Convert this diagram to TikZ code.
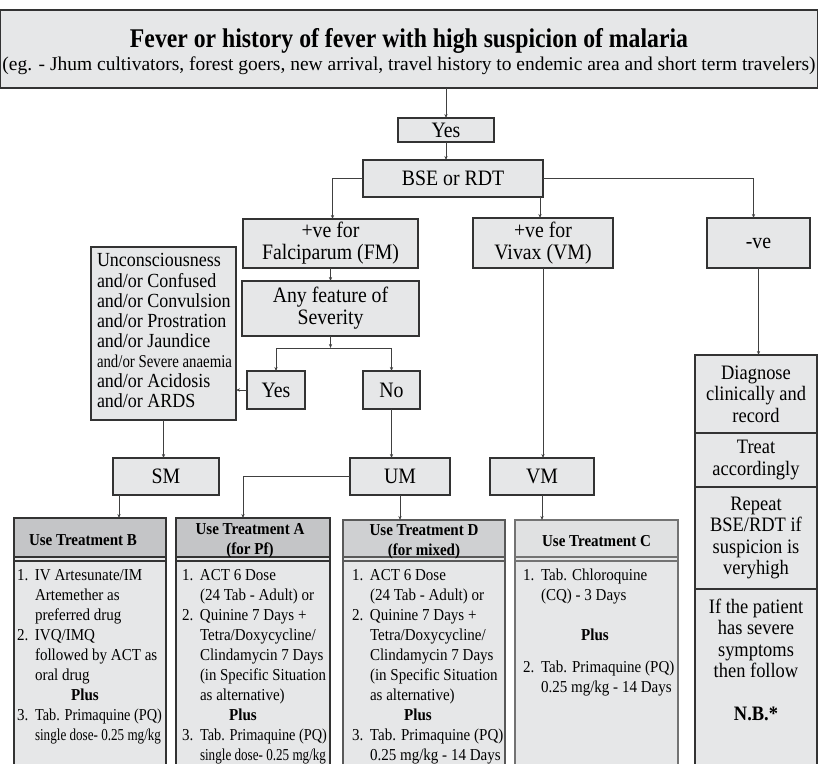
\documentclass[tikz,border=0pt]{standalone}
\usepackage{fontspec}
\setmainfont{Liberation Serif}[FakeStretch=0.9]
\usepackage{graphicx}
\usetikzlibrary{arrows.meta}
\definecolor{boxgray}{HTML}{E6E7E8}
\definecolor{hdrdark}{HTML}{C4C5C7}
\definecolor{hdrmid}{HTML}{CFD0D2}
\definecolor{hdrlight}{HTML}{E0E1E2}
\definecolor{edge}{HTML}{333333}
\newcommand\fsz[2]{\fontsize{#1}{#2}\selectfont}
\newcommand\num[1]{\makebox[18pt][l]{#1}}
\newcommand\hang{\hspace*{18pt}}
\newcommand\squeezeto[2]{\resizebox{#1}{\height}{#2}}
\begin{document}
\begin{tikzpicture}[x=1pt,y=-1pt,
  fcbox/.style={draw=edge, line width=1.2pt, fill=boxgray, inner sep=0pt, outer sep=0pt, align=center, anchor=north west},
  conn/.style={draw=black!75, line width=0.7pt, -{Stealth[length=4pt,width=3.2pt]}},
  plainline/.style={draw=black!75, line width=0.7pt},
  big/.style={font=\fsz{22}{22}},
  body/.style={inner sep=0pt, outer sep=0pt, align=left, anchor=north west, font=\fsz{16.7}{20}},
  hdr/.style={draw=edge, line width=1.2pt, inner sep=0pt, outer sep=0pt, anchor=north west},
  hdrtext/.style={inner sep=0pt, align=center, font=\fsz{16.7}{20}\bfseries},
  rtext/.style={font=\fsz{20.5}{21.5}},
]
\clip (0,0) rectangle (818,763);
\fill[white] (0,0) rectangle (818,763);

% top box
\node[fcbox, minimum width=817pt, minimum height=78pt] (top) at (0.6,10) {};
\node[anchor=base, inner sep=0pt] (title) at (409,47) {\squeezeto{558pt}{\fsz{27}{27}\bfseries Fever or history of fever with high suspicion of malaria}};
\node[anchor=base, inner sep=0pt] (subt) at (409,70.5) {\squeezeto{813pt}{\fsz{19.5}{19.5}(eg. - Jhum cultivators, forest goers, new arrival, travel history to endemic area and short term travelers)}};

\node[fcbox, big, minimum width=96pt, minimum height=24pt] (yes1) at (398,118) {Yes};
\node[fcbox, big, minimum width=180pt, minimum height=37pt] (bse) at (363,160) {BSE or RDT};
\node[fcbox, big, minimum width=175pt, minimum height=49pt] (fm) at (243,219) {+ve for\\Falciparum (FM)};
\node[fcbox, big, minimum width=140pt, minimum height=50pt] (vivax) at (473,218) {+ve for\\Vivax (VM)};
\node[fcbox, big, minimum width=103pt, minimum height=50pt] (neg) at (707,218) {-ve};
\node[fcbox, big, minimum width=177pt, minimum height=55pt] (sev) at (242,281) {Any feature of\\Severity};
\node[fcbox, big, minimum width=58pt, minimum height=38pt] (yes2) at (247,371) {Yes};
\node[fcbox, big, minimum width=57pt, minimum height=38pt] (no) at (363,371) {No};
\node[fcbox, minimum width=145pt, minimum height=173pt] (symp) at (91,247) {};
\node[body, font=\fsz{20}{20}] (symptext) at (97,252) {\strut Unconsciousness\\and/or Confused\\and/or Convulsion\\and/or Prostration\\and/or Jaundice\\\squeezeto{135pt}{\fsz{18}{20}and/or Severe anaemia}\\and/or Acidosis\\and/or ARDS};

\node[fcbox, big, minimum width=106pt, minimum height=37pt] (sm) at (113,458) {SM};
\node[fcbox, big, minimum width=100pt, minimum height=37pt] (um) at (350,458) {UM};
\node[fcbox, big, minimum width=104pt, minimum height=37pt] (vm) at (490,458) {VM};

% right column
\node[fcbox, rtext, minimum width=122pt, minimum height=78pt] (rc1) at (695,355) {Diagnose\\clinically and\\record};
\node[fcbox, rtext, minimum width=122pt, minimum height=54pt] (rc2) at (695,433) {Treat\\accordingly};
\node[fcbox, rtext, minimum width=122pt, minimum height=102pt] (rc3) at (695,487) {Repeat\\BSE/RDT if\\suspicion is\\veryhigh};
\node[fcbox, rtext, minimum width=122pt, minimum height=200pt] (rc4) at (695,589) {};
\node[rtext, anchor=north, inner sep=0pt, align=center] (rc4text) at (756,598) {\strut If the patient\\has severe\\symptoms\\then follow\\[21.5pt]\textbf{N.B.*}};

% treatment boxes
\node[fcbox, minimum width=152pt, minimum height=262pt] (trtB) at (14,518) {};
\node[hdr, fill=hdrdark, minimum width=152pt, minimum height=39pt] (hdrB) at (14,518) {};
\node[hdrtext] (hdrBt) at ([xshift=-7pt,yshift=-3pt]hdrB.center) {Use Treatment B};
\node[fcbox, minimum width=154pt, minimum height=262pt] (trtA) at (176,518) {};
\node[hdr, fill=hdrdark, minimum width=154pt, minimum height=39pt] (hdrA) at (176,518) {};
\node[hdrtext] (hdrAt) at ([xshift=-3pt,yshift=-3pt]hdrA.center) {Use Treatment A\\(for Pf)};
\node[fcbox, draw=black!65, minimum width=162pt, minimum height=262pt] (trtD) at (343,520) {};
\node[hdr, draw=black!65, fill=hdrmid, minimum width=162pt, minimum height=37pt] (hdrD) at (343,520) {};
\node[hdrtext] (hdrDt) at ([yshift=-3pt]hdrD.center) {Use Treatment D\\(for mixed)};
\node[fcbox, draw=black!55, minimum width=163pt, minimum height=262pt] (trtC) at (515,520) {};
\node[hdr, draw=black!55, fill=hdrlight, minimum width=163pt, minimum height=37pt] (hdrC) at (515,520) {};
\node[hdrtext] (hdrCt) at ([yshift=-3pt]hdrC.center) {Use Treatment C};

\foreach \h/\c in {hdrB/edge, hdrA/edge, hdrD/black!65, hdrC/black!55}{
  \draw[draw=\c, line width=1.2pt] ([yshift=-4pt]\h.south west) -- ([yshift=-4pt]\h.south east);
}

\node[body] (bodyB) at (17,566) {\strut\num{1.}IV Artesunate/IM\\\hang Artemether as\\\hang preferred drug\\\num{2.}IVQ/IMQ\\\hang followed by ACT as\\\hang oral drug\\\makebox[136pt][c]{\textbf{Plus}}\\\num{3.}\squeezeto{127pt}{Tab. Primaquine (PQ)}\\\hang\squeezeto{126pt}{single dose- 0.25 mg/kg}};
\node[body] (bodyA) at (182,566) {\strut\num{1.}ACT 6 Dose\\\hang(24 Tab - Adult) or\\\num{2.}Quinine 7 Days +\\\hang Tetra/Doxycycline/\\\hang Clindamycin 7 Days\\\hang\squeezeto{126pt}{(in Specific Situation}\\\hang as alternative)\\\makebox[122pt][c]{\textbf{Plus}}\\\num{3.}\squeezeto{127pt}{Tab. Primaquine (PQ)}\\\hang\squeezeto{126pt}{single dose- 0.25 mg/kg}};
\node[body] (bodyD) at (352,566) {\strut\num{1.}ACT 6 Dose\\\hang(24 Tab - Adult) or\\\num{2.}Quinine 7 Days +\\\hang Tetra/Doxycycline/\\\hang Clindamycin 7 Days\\\hang(in Specific Situation\\\hang as alternative)\\\makebox[132pt][c]{\textbf{Plus}}\\\num{3.}Tab. Primaquine (PQ)\\\hang 0.25 mg/kg - 14 Days};
\node[body] (bodyC) at (523,566) {\strut\num{1.}Tab. Chloroquine\\\hang(CQ) - 3 Days\\[20pt]\makebox[144pt][c]{\textbf{Plus}}\\[12pt]\num{2.}Tab. Primaquine (PQ)\\\hang 0.25 mg/kg - 14 Days};

% connectors
\draw[conn] (yes1.north |- top.south) -- (yes1.north);
\draw[conn] (yes1.south) -- (yes1.south |- bse.north);
\draw[conn] (bse.west) -| ([xshift=2pt]fm.north);
\draw[conn] ([xshift=-3pt]bse.south east) -- ([xshift=-3pt]bse.south east |- vivax.north);
\draw[conn] (bse.east) -| ([xshift=-5pt]neg.north);
\draw[conn] (fm.south) -- (fm.south |- sev.north);
\coordinate (split) at ([yshift=-12pt]sev.south);
\draw[conn] (sev.south) -- (split);
\draw[plainline] (split -| yes2.north) -- (split -| no.north);
\draw[conn] (split -| yes2.north) -- (yes2.north);
\draw[conn] (split -| no.north) -- (no.north);
\draw[conn] (yes2.west) -- (yes2.west -| symp.east);
\draw[conn] (symp.south) -- (symp.south |- sm.north);
\draw[conn] (no.south) -- (no.south |- um.north);
\draw[conn] (vivax.south) -- (vivax.south |- vm.north);
\draw[conn] (neg.south) -- (neg.south |- rc1.north);
\draw[conn] ([xshift=6pt]sm.south west) -- ([xshift=6pt]sm.south west |- trtB.north);
\draw[conn] (um.west) -| ([xshift=-10pt]trtA.north);
\draw[conn] (um.south) -- (um.south |- trtD.north);
\draw[conn] (vm.south) -- (vm.south |- trtC.north);
\end{tikzpicture}
\end{document}
